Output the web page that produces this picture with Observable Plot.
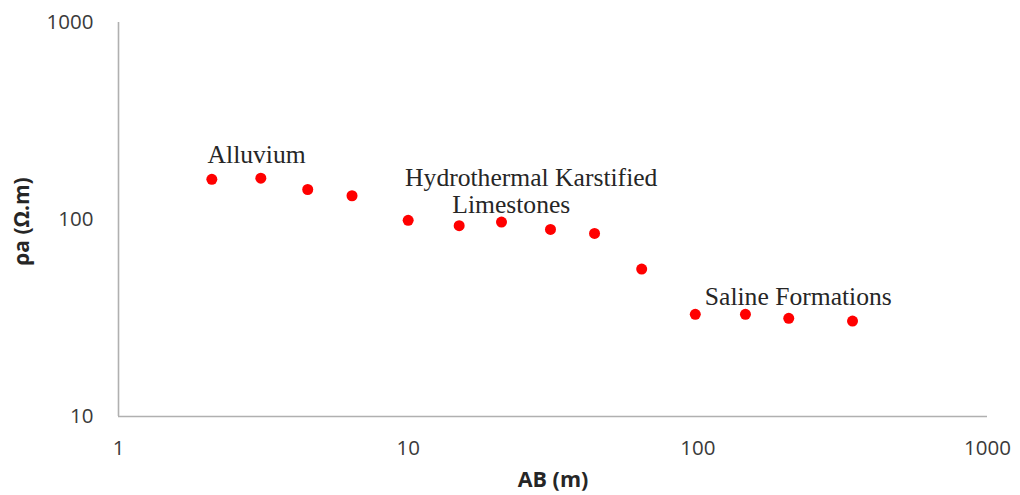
<!DOCTYPE html>
<html>
<head>
<meta charset="utf-8">
<script src="https://cdn.jsdelivr.net/npm/d3@7"></script>
<script src="https://cdn.jsdelivr.net/npm/@observablehq/plot@0.6"></script>
<style>
  html, body { margin: 0; padding: 0; background: #fff; }
</style>
</head>
<body>
<div id="chart"></div>
<script>
// AB spacing (m) and apparent resistivity (ohm.m)
const abValues = [2.1, 3.1, 4.5, 6.4, 10, 15, 21, 31, 44, 64, 98, 146, 206, 342];
const rhoValues = [160, 162, 142, 132, 99, 93, 97, 89, 85, 56, 33, 33, 31.5, 30.5];

const xTicks = [1, 10, 100, 1000];
const yTicks = [10, 100, 1000];

// Annotation labels (data coordinates)
const noteTexts = ["Alluvium", "Hydrothermal Karstified", "Limestones", "Saline Formations"];
const noteX = [2.03, 9.76, 14.2, 105.7];
const noteY = [214, 163, 119, 40.6];

const points = abValues.map((x, i) => ({x, y: rhoValues[i]}));
const notes = noteTexts.map((t, i) => ({t, x: noteX[i], y: noteY[i]}));

const chart = Plot.plot({
  width: 1020,
  height: 495,
  marginLeft: 118,
  marginRight: 33,
  marginTop: 22,
  marginBottom: 79,
  style: {fontFamily: "Open Sans", fontSize: "20px", color: "#3a3a3a", background: "#fff"},
  x: {type: "log", domain: [1, 1000]},
  y: {type: "log", domain: [10, 1000]},
  marks: [
    Plot.ruleX([1], {y1: 10, y2: 1000, stroke: "#b0b0b0", strokeWidth: 1.6}),
    Plot.ruleY([10], {x1: 1, x2: 1000, stroke: "#b0b0b0", strokeWidth: 1.6}),
    Plot.axisX({ticks: xTicks, tickSize: 0, tickPadding: 24, tickFormat: d => String(d), label: null, fontSize: 20.5}),
    Plot.axisY({ticks: yTicks, tickSize: 0, tickPadding: 25, tickFormat: d => String(d), label: null, fontSize: 20.5}),
    Plot.dot(points, {x: "x", y: "y", r: 5.5, fill: "#ff0000"}),
    Plot.text(notes, {x: "x", y: "y", text: "t", textAnchor: "start", fontFamily: "Liberation Serif", fontSize: 25.6, fill: "#262626"}),
    Plot.text(["ρa (Ω.m)"], {frameAnchor: "left", textAnchor: "middle", rotate: -90, dx: -96, dy: 2, fontWeight: "bold", fontSize: 21, fill: "#262626"}),
    Plot.text(["AB (m)"], {frameAnchor: "bottom", dy: 70, fontWeight: "bold", fontSize: 21.5, fill: "#262626"})
  ]
});
document.getElementById("chart").appendChild(chart);
</script>
</body>
</html>
